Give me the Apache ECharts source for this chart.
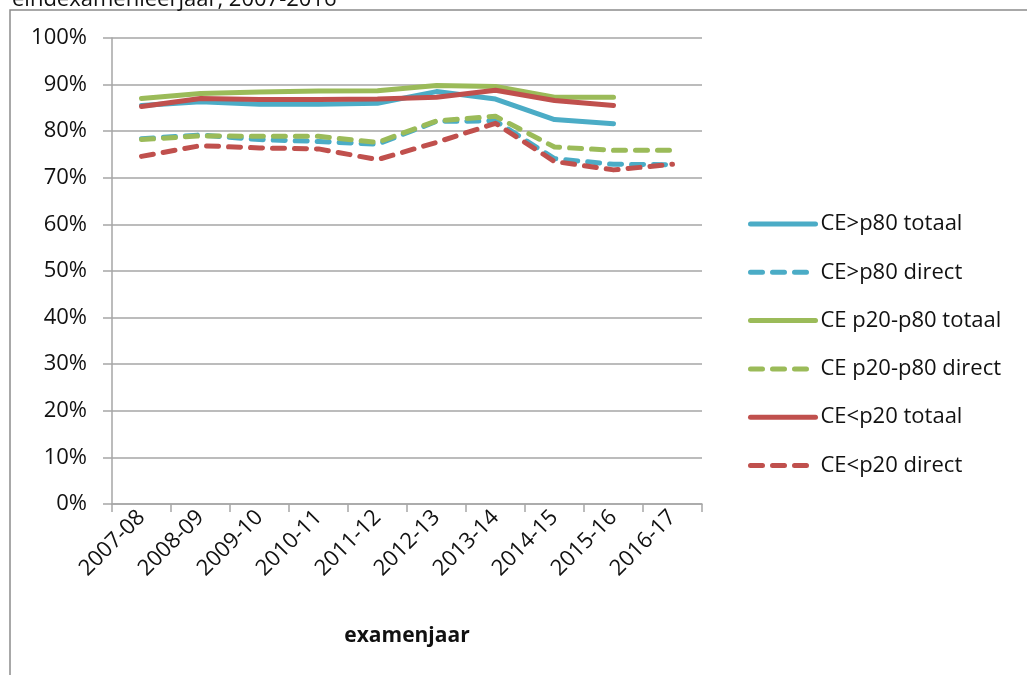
<!DOCTYPE html>
<html>
<head>
<meta charset="utf-8">
<script src="https://cdn.jsdelivr.net/npm/echarts@6/dist/echarts.min.js"></script>
<style>
  html, body { margin: 0; padding: 0; background: #fff; }
  #chart { width: 1027px; height: 675px; }
</style>
</head>
<body>
<div id="chart"></div>
<script>
// examenjaren op de x-as
var jaren = ["2007-08", "2008-09", "2009-10", "2010-11", "2011-12",
  "2012-13", "2013-14", "2014-15", "2015-16", "2016-17"];

// percentages
var p80Totaal = [85.5, 86.3, 85.8, 85.8, 86.0, 88.5, 86.9, 82.5, 81.6];
var p80Direct = [78.4, 79.2, 78.2, 77.8, 77.2, 82.1, 82.2, 74.1, 72.9, 72.8];
var midTotaal = [87.0, 88.1, 88.4, 88.6, 88.7, 89.8, 89.6, 87.3, 87.3];
var midDirect = [78.2, 79.0, 78.9, 78.9, 77.6, 82.2, 83.2, 76.6, 75.9, 75.9];
var p20Totaal = [85.3, 87.0, 86.8, 86.8, 86.9, 87.3, 88.8, 86.6, 85.5];
var p20Direct = [74.6, 76.9, 76.4, 76.2, 73.9, 77.6, 81.7, 73.5, 71.7, 72.9];

var yTicks = [0, 10, 20, 30, 40, 50, 60, 70, 80, 90, 100];

var font = "Open Sans";
var blauw = "#4BACC6", groen = "#9BBB59", rood = "#C0504D";

function lijn(naam, data, kleur, gestippeld) {
  return {
    name: naam,
    type: "line",
    data: data,
    symbol: "none",
    lineStyle: {
      color: kleur,
      width: 5,
      type: gestippeld ? [12, 10] : "solid",
      cap: "round",
      join: "round"
    },
    itemStyle: { color: kleur }
  };
}

var chart = echarts.init(document.getElementById("chart"));

var option = {
  animation: false,
  title: {
    text: "eindexamenleerjaar, 2007-2016",
    left: 7,
    top: -16,
    textStyle: { fontFamily: font, fontSize: 22, fontWeight: "normal", color: "#111" }
  },
  graphic: [{
    type: "rect",
    shape: { x: 10, y: 10, width: 1100, height: 800 },
    style: { fill: "none", stroke: "#8c8c8c", lineWidth: 1.5 },
    silent: true
  }],
  grid: { left: 112, top: 38, right: 325, bottom: 171 },
  legend: {
    orient: "vertical",
    left: 743,
    top: 207,
    itemWidth: 65,
    itemHeight: 14,
    itemGap: 24.3,
    itemStyle: { opacity: 0 },
    lineStyle: { width: 5 },
    textStyle: { fontFamily: font, fontSize: 22, color: "#111", lineHeight: 24 },
    data: ["CE>p80 totaal", "CE>p80 direct", "CE p20-p80 totaal",
      "CE p20-p80 direct", "CE<p20 totaal", "CE<p20 direct"]
  },
  xAxis: {
    type: "category",
    data: jaren,
    boundaryGap: true,
    name: "examenjaar",
    nameLocation: "middle",
    nameGap: 122,
    nameTextStyle: { fontFamily: font, fontSize: 21, fontWeight: "bold", color: "#111" },
    axisLine: { lineStyle: { color: "#a6a6a6", width: 1.5 } },
    axisTick: { show: true, length: 8, lineStyle: { color: "#a6a6a6", width: 1.5 } },
    axisLabel: { rotate: 45, margin: 10, fontFamily: font, fontSize: 22, color: "#111" },
    splitLine: { show: false }
  },
  yAxis: {
    type: "value",
    min: yTicks[0],
    max: yTicks[yTicks.length - 1],
    interval: 10,
    axisLine: { show: true, lineStyle: { color: "#a6a6a6", width: 1.5 } },
    axisTick: { show: true, length: 9, lineStyle: { color: "#a6a6a6", width: 1.5 } },
    axisLabel: { formatter: "{value}%", margin: 25, fontFamily: font, fontSize: 22, color: "#111" },
    splitLine: { show: true, lineStyle: { color: "#a6a6a6", width: 1.5 } }
  },
  series: [
    lijn("CE>p80 totaal", p80Totaal, blauw, false),
    lijn("CE>p80 direct", p80Direct, blauw, true),
    lijn("CE p20-p80 totaal", midTotaal, groen, false),
    lijn("CE p20-p80 direct", midDirect, groen, true),
    lijn("CE<p20 totaal", p20Totaal, rood, false),
    lijn("CE<p20 direct", p20Direct, rood, true)
  ]
};

chart.setOption(option);
</script>
</body>
</html>
